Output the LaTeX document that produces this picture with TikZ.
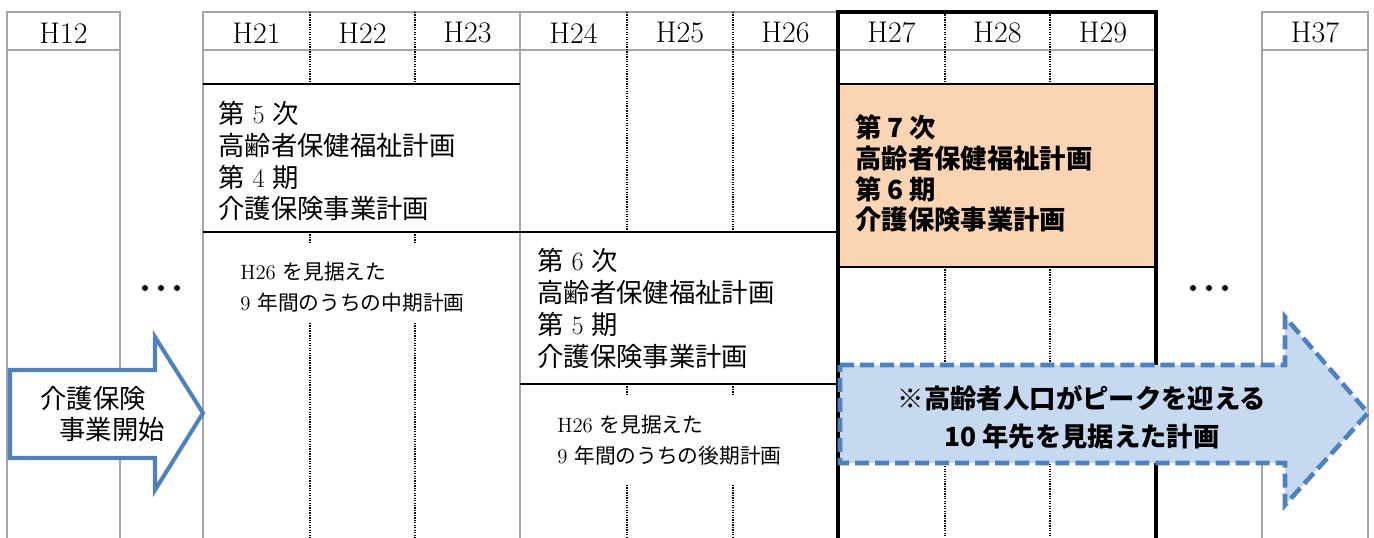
\documentclass[tikz,border=0pt]{standalone}
\usepackage{fontspec}
\newfontfamily\jp{Noto Sans CJK JP}
\usetikzlibrary{positioning}
\definecolor{gridgray}{HTML}{A6A6A6}
\definecolor{arrowblue}{HTML}{4F81BD}
\definecolor{arrowfill}{HTML}{C6D9F1}
\definecolor{planorange}{HTML}{FBD4B4}
\tikzset{
  gridline/.style={gridgray,line width=1.1pt},
  dotline/.style={black,line width=0.6pt,dash pattern=on 0.7pt off 0.7pt},
  sepline/.style={black,line width=1.3pt},
  frameline/.style={black,line width=2.6pt},
  yearlabel/.style={inner sep=0pt,font=\fontsize{17pt}{18pt}\selectfont},
  plantext/.style={anchor=west,inner sep=0pt,align=left,font=\fontsize{15pt}{18.2pt}\selectfont},
  boldtext/.style={anchor=west,inner sep=0pt,align=left,font=\fontsize{15pt}{17.6pt}\selectfont\jp\bfseries},
  notetext/.style={anchor=west,inner sep=0pt,align=left,font=\fontsize{11.8pt}{17.8pt}\selectfont},
}

\begin{document}
\begin{tikzpicture}[x=0.02cm,y=-0.02cm]
\useasboundingbox (0,0) rectangle (1374,538);

% gray grid
\draw[gridline] (7,538) -- (7,12) -- (120,12) -- (120,538);
\draw[gridline] (7,50) -- (120,50);
\draw[gridline] (203,538) -- (203,12) -- (838,12);
\draw[gridline] (203,50) -- (1156,50);
\draw[gridline] (520,12) -- (520,538);
\draw[gridline] (1262,538) -- (1262,12) -- (1368,12) -- (1368,538);
\draw[gridline] (1262,50) -- (1368,50);

% dotted year lines
\draw[dotline] (310,12) -- (310,84);
\draw[dotline] (310,232) -- (310,242);
\draw[dotline] (310,323) -- (310,538);
\draw[dotline] (415,12) -- (415,84);
\draw[dotline] (415,232) -- (415,242);
\draw[dotline] (415,323) -- (415,538);
\draw[dotline] (627,12) -- (627,232);
\draw[dotline] (627,384) -- (627,395);
\draw[dotline] (627,485) -- (627,538);
\draw[dotline] (733,12) -- (733,232);
\draw[dotline] (733,384) -- (733,395);
\draw[dotline] (733,485) -- (733,538);
\draw[dotline] (945,12) -- (945,84);
\draw[dotline] (945,267) -- (945,538);
\draw[dotline] (1050,12) -- (1050,84);
\draw[dotline] (1050,267) -- (1050,538);

% plan blocks
\fill[planorange] (838,84) rectangle (1156,267);
\draw[sepline] (203,84) -- (520,84);
\draw[sepline] (203,232) -- (838,232);
\draw[sepline] (520,384) -- (838,384);
\draw[sepline] (838,84) -- (1156,84);
\draw[sepline] (838,267) -- (1156,267);
\draw[frameline] (838,538) -- (838,12) -- (1156,12) -- (1156,538);

% years
\node[yearlabel] (h12) at (63.5,33) {H12};
\node[yearlabel] (h21) at (256.5,33) {H21};
\node[yearlabel] (h22) at (362.5,33) {H22};
\node[yearlabel] (h23) at (467.5,33) {H23};
\node[yearlabel] (h24) at (573.5,33) {H24};
\node[yearlabel] (h25) at (680,33) {H25};
\node[yearlabel] (h26) at (785.5,33) {H26};
\node[yearlabel] (h27) at (891.5,33) {H27};
\node[yearlabel] (h28) at (997.5,33) {H28};
\node[yearlabel] (h29) at (1103,33) {H29};
\node[yearlabel] (h37) at (1315,33) {H37};

% plan texts
\node[plantext] (plan5) at (218,161) {{\jp 第} 5 {\jp 次}\\{\jp 高齢者保健福祉計画}\\{\jp 第} 4 {\jp 期}\\{\jp 介護保険事業計画}};
\node[notetext] (midplan) at (240,287) {H26 {\jp を見据えた}\\9 {\jp 年間のうちの中期計画}};
\node[plantext] (plan6) at (537,308.5) {{\jp 第} 6 {\jp 次}\\{\jp 高齢者保健福祉計画}\\{\jp 第} 5 {\jp 期}\\{\jp 介護保険事業計画}};
\node[notetext] (lateplan) at (557,440.5) {H26 {\jp を見据えた}\\9 {\jp 年間のうちの後期計画}};
\node[boldtext] (plan7) at (855,173.5) {第 7 次\\高齢者保健福祉計画\\第 6 期\\介護保険事業計画};

% dots
\fill (145,288) circle (3);
\fill (161,288) circle (3);
\fill (177,288) circle (3);
\fill (1193,288) circle (3);
\fill (1209,288) circle (3);
\fill (1225,288) circle (3);

% start arrow
\draw[arrowblue,fill=white,line width=2.3pt,line join=miter]
  (10,370) -- (155,370) -- (155,337) -- (203,413) -- (155,490) -- (155,458) -- (10,458) -- cycle;
\node[plantext] (start) at (40,414) {{\jp 介護保険}\\\hspace*{0.38cm}{\jp 事業開始}};

% peak arrow
\draw[arrowblue,fill=arrowfill,line width=2.6pt,dash pattern=on 8pt off 3.4pt]
  (840,365) -- (1285,365) -- (1285,317) -- (1368,413) -- (1285,505) -- (1285,463) -- (840,463) -- cycle;
\node[align=center,inner sep=0pt,font=\fontsize{15pt}{21.5pt}\selectfont\jp\bfseries] (peak) at (1082,417) {※高齢者人口がピークを迎える\\10 年先を見据えた計画};

\end{tikzpicture}
\end{document}
